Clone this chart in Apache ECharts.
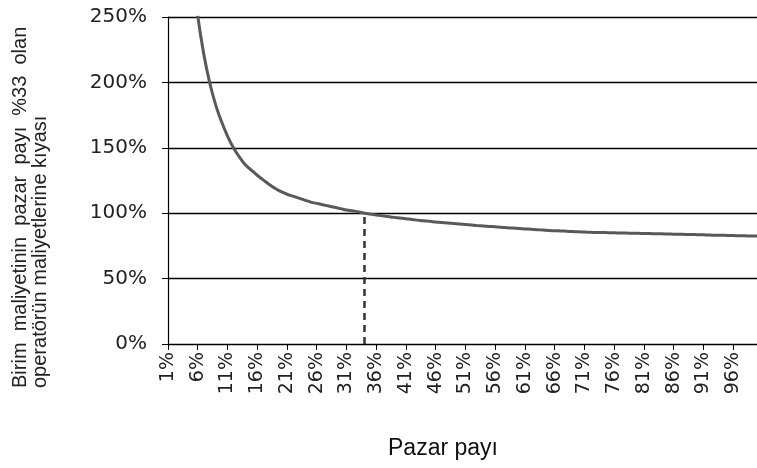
<!DOCTYPE html>
<html>
<head>
<meta charset="utf-8">
<script src="https://cdn.jsdelivr.net/npm/echarts@6/dist/echarts.min.js"></script>
<style>
  html, body { margin: 0; padding: 0; background: #fff; }
  #chart { width: 757px; height: 468px; }
</style>
</head>
<body>
<div id="chart"></div>
<script>
// pazar payı 1% .. 100%
const categories = []
for (let i = 1; i <= 100; i++) categories.push(i + '%')

// birim maliyet, %33 payli operatore gore (%), 1%..100%
const costIndex = [
  null, null, null, null, null, 251, 222, 200, 183, 170,
  159, 150, 143, 137, 133, 129, 125.5, 122, 119, 116.5,
  114.5, 113, 111.5, 110, 108.5, 107.5, 106.5, 105.5, 104.5, 103.5,
  102.5, 101.8, 101, 100, 99.3, 98.7, 98, 97.4, 96.8, 96.3,
  95.8, 95.2, 94.7, 94.2, 93.8, 93.3, 92.9, 92.5, 92.1, 91.7,
  91.3, 90.9, 90.5, 90.2, 89.9, 89.6, 89.2, 88.9, 88.6, 88.3,
  88, 87.7, 87.4, 87.1, 86.8, 86.6, 86.4, 86.2, 86, 85.8,
  85.6, 85.4, 85.3, 85.2, 85.1, 85, 84.9, 84.8, 84.7, 84.6,
  84.5, 84.4, 84.3, 84.2, 84.1, 84, 83.9, 83.8, 83.7, 83.6,
  83.5, 83.3, 83.2, 83.1, 83, 82.9, 82.8, 82.7, 82.6, 82.5
]

const refShare = '34%'   // kesikli cizgi
const yTicks = [0, 50, 100, 150, 200, 250]

const chart = echarts.init(document.getElementById('chart'))

chart.setOption({
  animation: false,
  textStyle: { fontFamily: 'DejaVu Sans', color: '#222' },
  grid: {
    left: 168,
    top: 17,
    bottom: 124,
    width: 594
  },
  xAxis: {
    type: 'category',
    data: categories,
    boundaryGap: false,
    axisLine: { lineStyle: { color: '#000', width: 1.2 } },
    axisTick: { show: true, interval: 4, length: 6, lineStyle: { color: '#000' } },
    axisLabel: {
      interval: 4,
      rotate: 90,
      margin: 8,
      fontSize: 19,
      color: '#222',
      fontFamily: 'DejaVu Sans'
    },
    splitLine: { show: false }
  },
  yAxis: {
    type: 'value',
    min: yTicks[0],
    max: yTicks[yTicks.length - 1],
    interval: 50,
    axisLine: { show: true, lineStyle: { color: '#000', width: 1.2 } },
    axisTick: { show: true, length: 6, lineStyle: { color: '#000' } },
    axisLabel: {
      formatter: '{value}%',
      margin: 21,
      fontSize: 20,
      color: '#222',
      fontFamily: 'DejaVu Sans'
    },
    splitLine: { lineStyle: { color: '#000', width: 1.4 } }
  },
  series: [
    {
      type: 'line',
      data: costIndex,
      showSymbol: false,
      smooth: true,
      lineStyle: { color: '#595959', width: 3 },
      markLine: {
        silent: true,
        symbol: 'none',
        label: { show: false },
        lineStyle: { color: '#333', type: [7, 5], width: 2.5 },
        data: [
          [ { xAxis: refShare, yAxis: 0 }, { xAxis: refShare, yAxis: 100 } ]
        ]
      }
    }
  ],
  graphic: [
    {
      type: 'text',
      x: 20,
      y: 388,
      rotation: Math.PI / 2,
      style: {
        text: 'Birim  maliyetinin  pazar  payı  %33  olan',
        font: '20px "Liberation Sans"',
        fill: '#222',
        textAlign: 'left',
        textVerticalAlign: 'middle'
      }
    },
    {
      type: 'text',
      x: 40,
      y: 388,
      rotation: Math.PI / 2,
      style: {
        text: 'operatörün maliyetlerine kıyası',
        font: '20px "Liberation Sans"',
        fill: '#222',
        textAlign: 'left',
        textVerticalAlign: 'middle'
      }
    },
    {
      type: 'text',
      x: 443,
      y: 449,
      style: {
        text: 'Pazar payı',
        font: '23px "Liberation Sans"',
        fill: '#111',
        textAlign: 'center',
        textVerticalAlign: 'middle'
      }
    }
  ]
})
</script>
</body>
</html>
